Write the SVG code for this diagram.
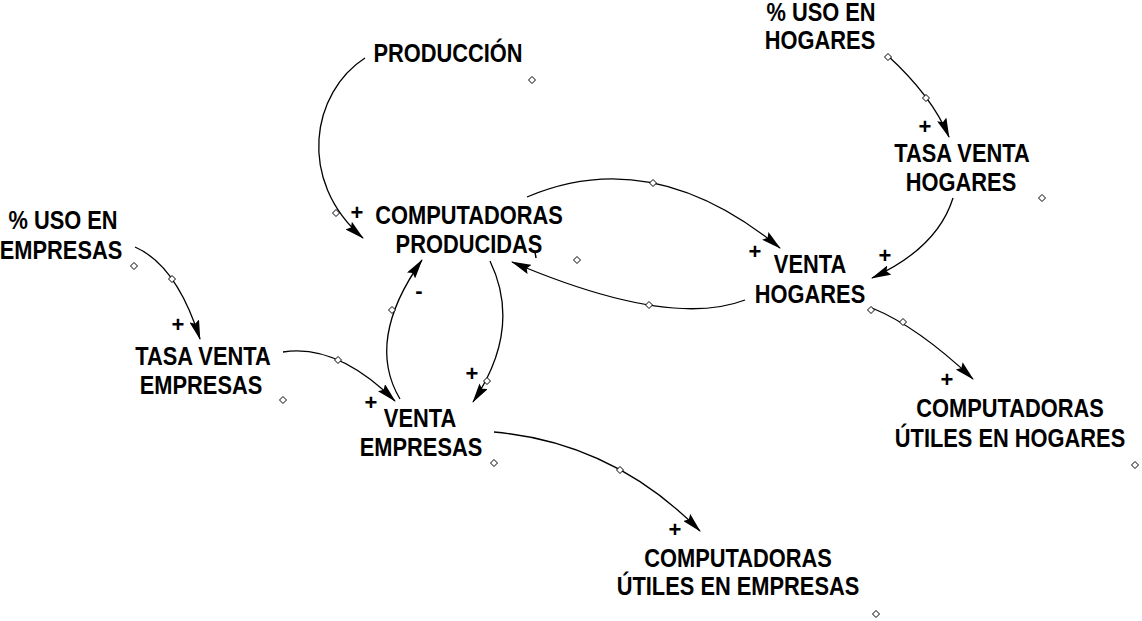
<svg xmlns="http://www.w3.org/2000/svg" width="1142" height="621" viewBox="0 0 1142 621">
<defs>
<marker id="ah" viewBox="0 0 20 10" refX="19" refY="5" markerWidth="20" markerHeight="10" markerUnits="userSpaceOnUse" orient="auto">
<path d="M0,0 L20,5 L0,10 L3,5 z" fill="#000"/>
</marker>
<path id="dm" d="M0,-3.5 L3.5,0 L0,3.5 L-3.5,0 z"/>
</defs>
<style>
text{font-family:"Liberation Sans",Arial,sans-serif;font-weight:bold;font-size:26px;fill:#000;text-anchor:middle}
.pol{font-size:22px}
.c{fill:none;stroke:#000;stroke-width:1.3;marker-end:url(#ah)}
.h{fill:#fff;stroke:#000;stroke-width:1}
</style>
<rect width="1142" height="621" fill="#fff"/>
<g id="connectors">
<path class="c" d="M365,58 C312,92 296,180 363,238"/>
<path class="c" d="M527,197 Q652.5,143.5 780,248"/>
<path class="c" d="M745,300 Q669.5,329 512,262"/>
<path class="c" d="M887,55 Q932,96 949,137"/>
<path class="c" d="M953,198 Q937.5,248 872,278"/>
<path class="c" d="M135,247 Q176.5,265 200,339"/>
<path class="c" d="M283,352 Q337,343.5 395,401"/>
<path class="c" d="M400,399 Q365,340.5 422,260"/>
<path class="c" d="M490,261 Q522.5,328.5 473,402"/>
<path class="c" d="M494,432 Q613,442.5 700,531"/>
<path class="c" d="M872,308 Q917.5,326.5 973,379"/>
<path d="M535,252 L536,258" stroke="#000" stroke-width="1.5"/>
<g class="h">
<use href="#dm" x="336" y="213"/>
<use href="#dm" x="653" y="183"/>
<use href="#dm" x="649" y="305"/>
<use href="#dm" x="926" y="98"/>
<use href="#dm" x="172" y="279"/>
<use href="#dm" x="338" y="360"/>
<use href="#dm" x="392" y="310"/>
<use href="#dm" x="487" y="381"/>
<use href="#dm" x="620" y="470"/>
<use href="#dm" x="903" y="322"/>
</g>
<text class="pol" x="357" y="220">+</text>
<text class="pol" x="755" y="259">+</text>
<text class="pol" x="885" y="263">+</text>
<text class="pol" x="925" y="134">+</text>
<text class="pol" x="178" y="332">+</text>
<text class="pol" x="371" y="410">+</text>
<text class="pol" x="472" y="381">+</text>
<text class="pol" x="419" y="298">-</text>
<text class="pol" x="675" y="537">+</text>
<text class="pol" x="947" y="387">+</text>
</g>
<g id="produccion">
<text transform="translate(448 62) scale(0.84 1)">PRODUCCIÓN</text>
<use class="h" href="#dm" x="532" y="80"/>
</g>
<g id="uso-hogares">
<text transform="translate(821 21) scale(0.84 1)">% USO EN</text>
<text transform="translate(820 49) scale(0.84 1)">HOGARES</text>
<use class="h" href="#dm" x="888" y="57"/>
</g>
<g id="tasa-venta-hogares">
<text transform="translate(962 162) scale(0.84 1)">TASA VENTA</text>
<text transform="translate(961 191) scale(0.84 1)">HOGARES</text>
<use class="h" href="#dm" x="1042" y="198"/>
</g>
<g id="venta-hogares">
<text transform="translate(810 273) scale(0.84 1)">VENTA</text>
<text transform="translate(810 303) scale(0.84 1)">HOGARES</text>
<use class="h" href="#dm" x="871" y="310"/>
</g>
<g id="computadoras-producidas">
<text transform="translate(469 224) scale(0.84 1)">COMPUTADORAS</text>
<text transform="translate(469 253) scale(0.84 1)">PRODUCIDAS</text>
<use class="h" href="#dm" x="577" y="260"/>
</g>
<g id="uso-empresas">
<text transform="translate(63 229) scale(0.84 1)">% USO EN</text>
<text transform="translate(61 259) scale(0.84 1)">EMPRESAS</text>
<use class="h" href="#dm" x="134" y="266"/>
</g>
<g id="tasa-venta-empresas">
<text transform="translate(203 365) scale(0.84 1)">TASA VENTA</text>
<text transform="translate(201 394) scale(0.84 1)">EMPRESAS</text>
<use class="h" href="#dm" x="283" y="400"/>
</g>
<g id="venta-empresas">
<text transform="translate(420 427) scale(0.84 1)">VENTA</text>
<text transform="translate(421 456) scale(0.84 1)">EMPRESAS</text>
<use class="h" href="#dm" x="494" y="463"/>
</g>
<g id="utiles-empresas">
<text transform="translate(738 567) scale(0.84 1)">COMPUTADORAS</text>
<text transform="translate(738 595) scale(0.84 1)">ÚTILES EN EMPRESAS</text>
<use class="h" href="#dm" x="876" y="614"/>
</g>
<g id="utiles-hogares">
<text transform="translate(1010 417) scale(0.84 1)">COMPUTADORAS</text>
<text transform="translate(1010 447) scale(0.84 1)">ÚTILES EN HOGARES</text>
<use class="h" href="#dm" x="1135" y="465"/>
</g>
</svg>
